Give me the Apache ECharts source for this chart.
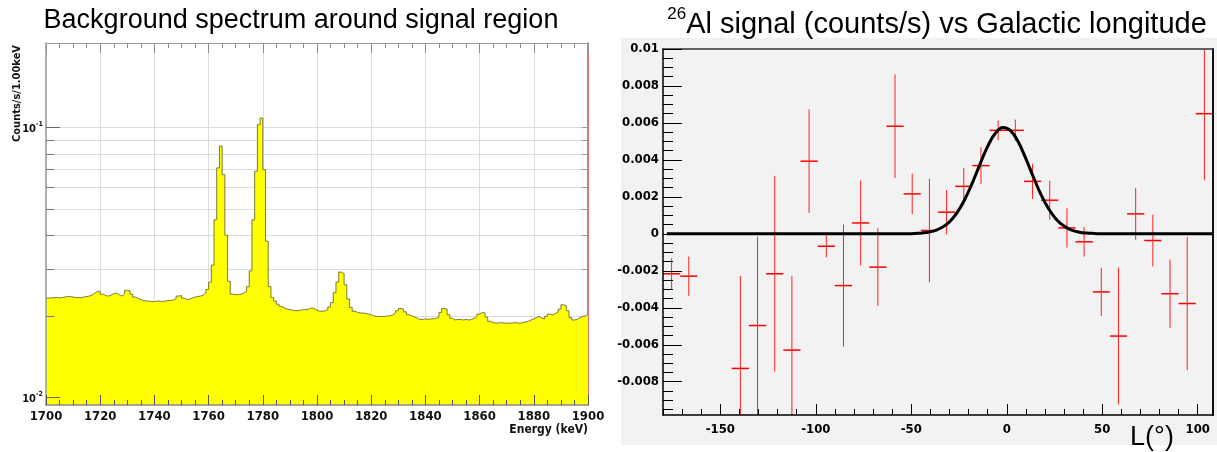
<!DOCTYPE html>
<html>
<head>
<meta charset="utf-8">
<script src="https://cdn.jsdelivr.net/npm/echarts@6/dist/echarts.min.js"></script>
<style>
  html, body { margin: 0; padding: 0; background: #ffffff; }
  #chart { width: 1217px; height: 452px; }
</style>
</head>
<body>
<div id="chart"></div>
<script>
// ---- Background spectrum (counts/s per 1 keV bin), bins start at 1700 keV ----
const spectrumStart = 1700;
const spectrumBinWidth = 1;
const spectrumCounts = [
  0.0234, 0.0234, 0.0235, 0.0235, 0.0234, 0.0235, 0.0236, 0.0237, 0.0237, 0.0236, 0.0235, 0.0235, 0.0235, 0.0236, 0.0237, 0.0238, 0.0240, 0.0244, 0.0248, 0.0247,
  0.0242, 0.0239, 0.0238, 0.0240, 0.0243, 0.0244, 0.0241, 0.0238, 0.0242, 0.0250, 0.0249, 0.0242, 0.0236, 0.0233, 0.0231, 0.0229, 0.0228, 0.0228, 0.0227, 0.0227,
  0.0228, 0.0228, 0.0227, 0.0228, 0.0229, 0.0229, 0.0230, 0.0233, 0.0238, 0.0239, 0.0234, 0.0231, 0.0232, 0.0234, 0.0236, 0.0237, 0.0238, 0.0240, 0.0244, 0.0252,
  0.0268, 0.0310, 0.0456, 0.0710, 0.0855, 0.0670, 0.0400, 0.0270, 0.0242, 0.0241, 0.0241, 0.0242, 0.0244, 0.0248, 0.0258, 0.0295, 0.0456, 0.0690, 0.1026, 0.1086,
  0.0700, 0.0380, 0.0258, 0.0235, 0.0228, 0.0222, 0.0218, 0.0215, 0.0213, 0.0212, 0.0211, 0.0210, 0.0210, 0.0211, 0.0212, 0.0212, 0.0213, 0.0215, 0.0214, 0.0211,
  0.0209, 0.0209, 0.0210, 0.0212, 0.0217, 0.0225, 0.0245, 0.0268, 0.0292, 0.0288, 0.0262, 0.0232, 0.0216, 0.0209, 0.0207, 0.0206, 0.0206, 0.0205, 0.0204, 0.0203,
  0.0201, 0.0200, 0.0200, 0.0200, 0.0200, 0.0201, 0.0201, 0.0203, 0.0206, 0.0210, 0.0214, 0.0213, 0.0208, 0.0203, 0.0201, 0.0199, 0.0197, 0.0195, 0.0195, 0.0196,
  0.0195, 0.0196, 0.0196, 0.0197, 0.0199, 0.0207, 0.0214, 0.0213, 0.0203, 0.0197, 0.0194, 0.0195, 0.0195, 0.0194, 0.0195, 0.0194, 0.0195, 0.0197, 0.0200, 0.0204,
  0.0207, 0.0206, 0.0199, 0.0192, 0.0190, 0.0189, 0.0189, 0.0190, 0.0189, 0.0189, 0.0189, 0.0189, 0.0190, 0.0189, 0.0189, 0.0190, 0.0191, 0.0192, 0.0194, 0.0196,
  0.0198, 0.0200, 0.0197, 0.0196, 0.0200, 0.0204, 0.0203, 0.0205, 0.0208, 0.0213, 0.0221, 0.0219, 0.0210, 0.0198, 0.0194, 0.0195, 0.0198, 0.0200, 0.0201, 0.0203
];
const countsMajorTicks = [0.01, 0.1];
const countsMinorTicks = [0.02, 0.03, 0.04, 0.05, 0.06, 0.07, 0.08, 0.09];

// ---- 26Al signal per 9-degree longitude bin (centre, value, error) ----
const lonBinWidth = 9;
const longitudes = [-175.5, -166.5, -139.5, -130.5, -121.5, -112.5, -103.5, -94.5, -85.5, -76.5, -67.5, -58.5, -49.5, -40.5, -31.5, -22.5,
  -13.5, -4.5, 4.5, 13.5, 22.5, 31.5, 40.5, 49.5, 58.5, 67.5, 76.5, 85.5, 94.5, 103.5, 112.5];
const signal = [-0.00216, -0.00229, -0.00728, -0.00496, -0.00216, -0.00629, 0.00393, -0.00067, -0.0028, 0.00059, -0.0018, 0.00582, 0.00216, 0.00018, 0.00117, 0.00257,
  0.00369, 0.0056, 0.0056, 0.00284, 0.00182, 0.00032, -0.00043, -0.00314, -0.00553, 0.00108, -0.00036, -0.00324, -0.00377, 0.0065, -0.0004];
const signalErr = [0.00083, 0.00106, 0.0050, 0.0048, 0.0053, 0.0040, 0.0028, 0.0006, 0.0033, 0.0023, 0.0021, 0.0028, 0.0011, 0.0028, 0.0012, 0.0010,
  0.0010, 0.00054, 0.00058, 0.00095, 0.00105, 0.00106, 0.0008, 0.0013, 0.0037, 0.0014, 0.0014, 0.00185, 0.0036, 0.0036, 0.0012];

// Gaussian fit to the longitude profile, sampled along longitude
const fitLon = [-178, -50, -46, -42, -38, -34, -30, -26, -22, -18, -14, -10, -6, -2, 2, 6, 10, 14, 18, 22, 26, 30, 34, 38, 42, 46, 50, 108];
const fitVal = [0, 0.00001, 0.00003, 0.00007, 0.00016, 0.00034, 0.00065, 0.00115, 0.00186, 0.00276, 0.00377, 0.00473, 0.00544, 0.00575,
  0.00558, 0.00498, 0.00407, 0.00306, 0.00211, 0.00134, 0.00078, 0.00042, 0.0002, 0.00009, 0.00004, 0.00002, 0, 0];

const lonLabelTicks = [-150, -100, -50, 0, 50, 100];
const signalLabelTicks = [-0.008, -0.006, -0.004, -0.002, 0, 0.002, 0.004, 0.006, 0.008, 0.01];
const signalMinorTicks = [-0.0095, -0.009, -0.0085, -0.0075, -0.007, -0.0065, -0.0055, -0.005, -0.0045, -0.0035, -0.003, -0.0025,
  -0.0015, -0.001, -0.0005, 0.0005, 0.001, 0.0015, 0.0025, 0.003, 0.0035, 0.0045, 0.005, 0.0055, 0.0065, 0.007, 0.0075, 0.0085, 0.009, 0.0095];

// ---- build series data ----
const histData = spectrumCounts.map((c, i) => [spectrumStart + i * spectrumBinWidth, c]);
histData.push([spectrumStart + spectrumCounts.length * spectrumBinWidth, spectrumCounts[spectrumCounts.length - 1]]);
const pointData = longitudes.map((l, i) => [l, signal[i], signalErr[i]]);
const fitData = fitLon.map((l, i) => [l, fitVal[i]]);

const NARROW = '"Liberation Sans Narrow", "DejaVu Sans Condensed", Arial, sans-serif';
const SANS = '"Liberation Sans", Arial, Helvetica, sans-serif';

const chart = echarts.init(document.getElementById('chart'), null, { renderer: 'canvas' });

const leftGrid = { left: 46, top: 43, width: 542, height: 362, outerBoundsMode: 'none' };
const rightGrid = { left: 663, top: 49, width: 550, height: 366, outerBoundsMode: 'none' };

function signalLabel(v) {
  if (Math.abs(v) < 1e-12) return '0';
  return String(parseFloat(v.toFixed(4)));
}

const option = {
  animation: false,
  backgroundColor: '#ffffff',
  title: [
    {
      text: 'Background spectrum around signal region',
      left: 296, top: 2, textAlign: 'center',
      textStyle: { fontFamily: SANS, fontSize: 27, fontWeight: 'normal', color: '#000' }
    },
    {
      text: '{s|26}{m|Al signal (counts/s) vs Galactic longitude}',
      left: 932, top: 1, textAlign: 'center',
      textStyle: {
        fontWeight: 'normal',
        rich: {
          s: { fontFamily: SANS, fontSize: 17, fontWeight: 'normal', color: '#000', verticalAlign: 'top', lineHeight: 17 },
          m: { fontFamily: SANS, fontSize: 29, fontWeight: 'normal', color: '#000', verticalAlign: 'bottom', lineHeight: 33 }
        }
      }
    }
  ],
  graphic: [
    { type: 'rect', z: -10, silent: true, shape: { x: 621, y: 38, width: 596, height: 407 }, style: { fill: '#f2f2f2' } },
    { type: 'text', z: 10, x: 17, y: 45, rotation: Math.PI / 2,
      style: { text: 'Counts/s/1.00keV', font: 'bold 11px ' + NARROW, fill: '#111', align: 'right', verticalAlign: 'middle' } },
    { type: 'text', z: 10, x: 588, y: 424,
      style: { text: 'Energy (keV)', font: 'bold 12px ' + NARROW, fill: '#111', align: 'right', verticalAlign: 'top' } },
    { type: 'text', z: 10, x: 1152, y: 438,
      style: { text: 'L(°)', font: '27px ' + SANS, fill: '#000', align: 'center', verticalAlign: 'middle' } }
  ],
  grid: [leftGrid, rightGrid],
  xAxis: [
    // 0: spectrum energy axis, bottom (labels + ticks drawn above the fill)
    {
      type: 'value', gridIndex: 0, position: 'bottom', min: 1700, max: 1900, interval: 20, z: 5,
      axisLine: { show: true, onZero: false, lineStyle: { color: '#8a8a8a', width: 1.5 } },
      axisTick: { show: true, inside: true, length: 10, lineStyle: { color: '#555' } },
      minorTick: { show: true, splitNumber: 4, length: 5, lineStyle: { color: '#555' } },
      axisLabel: { show: true, margin: 5, color: '#111', fontFamily: NARROW, fontWeight: 'bold', fontSize: 13, formatter: v => String(v) },
      splitLine: { show: false }
    },
    // 1: spectrum energy axis, top mirror with vertical grid lines
    {
      type: 'value', gridIndex: 0, position: 'top', min: 1700, max: 1900, interval: 20, z: 0,
      axisLine: { show: true, onZero: false, lineStyle: { color: '#9a9a9a', width: 1 } },
      axisTick: { show: true, inside: true, length: 10, lineStyle: { color: '#8a8a8a' } },
      minorTick: { show: true, splitNumber: 4, length: 5, lineStyle: { color: '#8a8a8a' } },
      axisLabel: { show: false },
      splitLine: { show: true, lineStyle: { color: '#dcdcdc', width: 1 } }
    },
    // 2: longitude axis, major ticks + labels
    {
      type: 'value', gridIndex: 1, position: 'bottom', min: -180, max: 108, z: 5,
      axisLine: { show: true, onZero: false, lineStyle: { color: '#000', width: 1.5 } },
      axisTick: { show: true, inside: true, length: 11, customValues: lonLabelTicks, lineStyle: { color: '#000' } },
      axisLabel: { show: true, customValues: lonLabelTicks, margin: 8, color: '#000', fontFamily: NARROW, fontWeight: 'bold', fontSize: 13 },
      splitLine: { show: false }
    },
    // 3: longitude axis, 10-degree minor ticks
    {
      type: 'value', gridIndex: 1, position: 'bottom', min: -180, max: 108, interval: 10, z: 5,
      axisLine: { show: false, onZero: false },
      axisTick: { show: true, inside: true, length: 6, lineStyle: { color: '#000' } },
      axisLabel: { show: false },
      splitLine: { show: false }
    },
    // 4: top frame of the longitude panel
    {
      type: 'value', gridIndex: 1, position: 'top', min: -180, max: 108, z: 5,
      axisLine: { show: true, onZero: false, lineStyle: { color: '#333', width: 1.5 } },
      axisTick: { show: false }, axisLabel: { show: false }, splitLine: { show: false }
    }
  ],
  yAxis: [
    // 0: counts axis, decade ticks + labels
    {
      type: 'log', logBase: 10, gridIndex: 0, position: 'left', min: 0.0094, max: 0.206, z: 5,
      axisLine: { show: true, onZero: false, lineStyle: { color: '#9a9a9a', width: 1.5 } },
      axisTick: { show: true, inside: true, length: 14, customValues: countsMajorTicks, lineStyle: { color: '#666' } },
      axisLabel: {
        show: true, customValues: countsMajorTicks, margin: 3,
        formatter: v => '{b|10}{s|' + Math.round(Math.log10(v)) + '}',
        rich: {
          b: { fontFamily: NARROW, fontWeight: 'bold', fontSize: 11, color: '#111', verticalAlign: 'bottom', lineHeight: 14 },
          s: { fontFamily: NARROW, fontWeight: 'bold', fontSize: 7, color: '#111', verticalAlign: 'top', lineHeight: 8 }
        }
      },
      splitLine: { show: false }
    },
    // 1: counts axis, minor ticks
    {
      type: 'log', logBase: 10, gridIndex: 0, position: 'left', min: 0.0094, max: 0.206, z: 5,
      axisLine: { show: false, onZero: false },
      axisTick: { show: true, inside: true, length: 8, customValues: countsMinorTicks, lineStyle: { color: '#777' } },
      axisLabel: { show: false },
      splitLine: { show: false }
    },
    // 2: counts axis, right mirror with horizontal grid lines
    {
      type: 'log', logBase: 10, gridIndex: 0, position: 'right', min: 0.0094, max: 0.206, z: 0,
      axisLine: { show: true, onZero: false, lineStyle: { color: '#d65050', width: 1.5 } },
      axisTick: { show: true, inside: true, length: 6, customValues: countsMajorTicks.concat(countsMinorTicks), lineStyle: { color: '#999' } },
      axisLabel: { show: false },
      splitLine: { show: true, lineStyle: { color: '#dcdcdc', width: 1 } }
    },
    // 3: signal axis, major ticks + labels
    {
      type: 'value', gridIndex: 1, position: 'left', min: -0.0098, max: 0.01, z: 5,
      axisLine: { show: true, onZero: false, lineStyle: { color: '#000', width: 1.5 } },
      axisTick: { show: true, inside: true, length: 19, customValues: signalLabelTicks, lineStyle: { color: '#000' } },
      axisLabel: { show: true, customValues: signalLabelTicks, margin: 4, formatter: signalLabel,
        color: '#000', fontFamily: NARROW, fontWeight: 'bold', fontSize: 13 },
      splitLine: { show: false }
    },
    // 4: signal axis, minor ticks
    {
      type: 'value', gridIndex: 1, position: 'left', min: -0.0098, max: 0.01, z: 5,
      axisLine: { show: false, onZero: false },
      axisTick: { show: true, inside: true, length: 10, customValues: signalMinorTicks, lineStyle: { color: '#000' } },
      axisLabel: { show: false },
      splitLine: { show: false }
    },
    // 5: right frame of the longitude panel
    {
      type: 'value', gridIndex: 1, position: 'right', min: -0.0098, max: 0.01, z: 5,
      axisLine: { show: true, onZero: false, lineStyle: { color: '#111', width: 2 } },
      axisTick: { show: false }, axisLabel: { show: false }, splitLine: { show: false }
    }
  ],
  series: [
    {
      name: 'spectrum', type: 'line', xAxisIndex: 0, yAxisIndex: 0,
      data: histData, step: 'end', symbol: 'none', z: 2,
      lineStyle: { color: '#7a7a3a', width: 1 },
      areaStyle: { color: '#ffff00', opacity: 1, origin: 'start' }
    },
    {
      name: 'signal', type: 'custom', xAxisIndex: 2, yAxisIndex: 3, clip: true, z: 2,
      encode: { x: 0, y: 1 },
      data: pointData,
      renderItem: function (params, api) {
        const l = api.value(0), v = api.value(1), e = api.value(2);
        const h = lonBinWidth / 2;
        const a = api.coord([l - h, v]);
        const b = api.coord([l + h, v]);
        const t = api.coord([l, v + e]);
        const d = api.coord([l, v - e]);
        return {
          type: 'group',
          children: [
            { type: 'line', shape: { x1: a[0], y1: a[1], x2: b[0], y2: b[1] }, style: { stroke: '#ff0000', lineWidth: 1.5 } },
            { type: 'line', shape: { x1: t[0], y1: t[1], x2: d[0], y2: d[1] }, style: { stroke: '#ff2020', lineWidth: 1 } }
          ]
        };
      }
    },
    {
      name: 'fit', type: 'line', xAxisIndex: 2, yAxisIndex: 3, z: 4,
      data: fitData, smooth: 0.4, symbol: 'none',
      lineStyle: { color: '#000000', width: 3 }
    }
  ]
};

chart.setOption(option);
</script>
</body>
</html>
